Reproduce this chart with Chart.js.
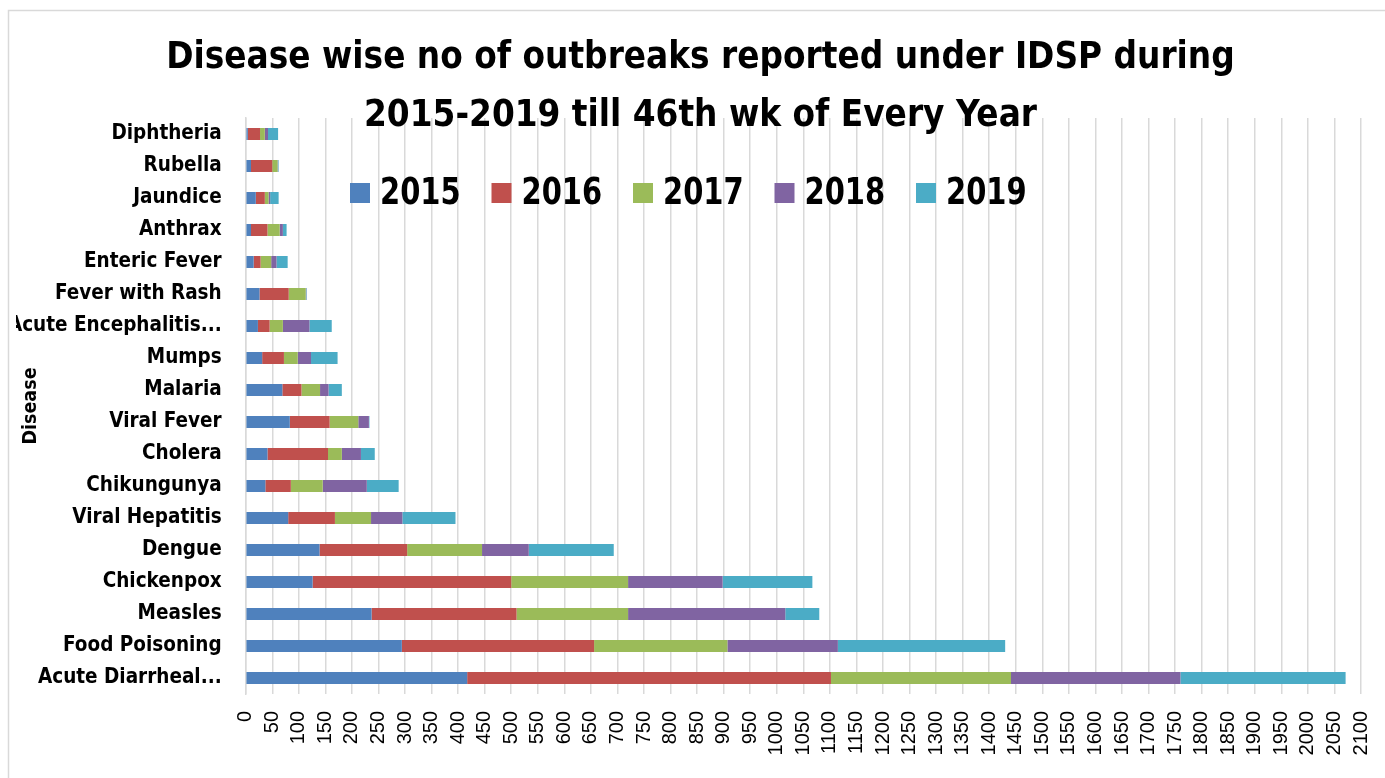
<!DOCTYPE html>
<html>
<head>
<meta charset="utf-8">
<script src="https://cdn.jsdelivr.net/npm/chart.js@4"></script>
<style>
  html, body { margin: 0; padding: 0; background: #fff; }
  canvas { display: block; }
</style>
</head>
<body>
<canvas id="outbreakChart" width="1385" height="778"></canvas>
<script>
// Diseases, top to bottom as in the chart
const diseases = ['Diphtheria', 'Rubella', 'Jaundice', 'Anthrax', 'Enteric Fever', 'Fever with Rash',
  'Acute Encephalitis...', 'Mumps', 'Malaria', 'Viral Fever', 'Cholera', 'Chikungunya',
  'Viral Hepatitis', 'Dengue', 'Chickenpox', 'Measles', 'Food Poisoning', 'Acute Diarrheal...'];

const years = ['2015', '2016', '2017', '2018', '2019'];

// outbreaks per year (same order as diseases)
const y2015 = [4, 10, 19, 10, 15, 26, 23, 31, 69, 83, 41, 37, 80, 139, 126, 237, 294, 417];
const y2016 = [23, 40, 17, 31, 13, 55, 22, 41, 36, 75, 114, 48, 88, 165, 374, 273, 362, 685];
const y2017 = [9, 10, 7, 23, 20, 32, 25, 26, 35, 54, 26, 60, 68, 141, 220, 210, 251, 339];
const y2018 = [6, 1, 3, 6, 10, 1, 50, 25, 16, 20, 36, 83, 59, 88, 178, 296, 208, 319];
const y2019 = [19, 1, 16, 7, 21, 1, 42, 50, 25, 1, 26, 60, 100, 160, 169, 64, 315, 311];

const xMax = 2100;
const xStep = 50;

const colors = ['#4f81bd', '#c0504d', '#9bbb59', '#8064a2', '#4bacc6'];
const narrow = '"Liberation Sans Narrow", "DejaVu Sans Condensed", "Liberation Sans", sans-serif';

// outer frame of the chart
const framePlugin = {
  id: 'frame',
  beforeDraw(chart) {
    const c = chart.ctx;
    c.save();
    c.fillStyle = '#fff';
    c.fillRect(0, 0, chart.width, chart.height);
    c.strokeStyle = '#d9d9d9';
    c.lineWidth = 1.5;
    c.strokeRect(8.5, 10.5, chart.width + 20, chart.height + 20);
    c.restore();
  }
};

// legend sits inside the plot area, over the grid
const legendPlugin = {
  id: 'innerLegend',
  afterDraw(chart) {
    const c = chart.ctx;
    const sets = chart.data.datasets;
    c.save();
    c.font = 'bold 37px ' + narrow;
    c.textBaseline = 'middle';
    const box = 20, gap = 10, pitch = 141.5;
    const x = 350, y = 193;
    sets.forEach((ds, i) => {
      const bx = x + i * pitch;
      c.fillStyle = ds.backgroundColor;
      c.fillRect(bx, y - box / 2, box, box);
      c.save();
      c.translate(bx + box + gap, y + 1);
      c.scale(0.87, 1); // squeeze to the narrow look of the original
      c.fillStyle = '#000';
      c.fillText(ds.label, 0, 0);
      c.restore();
    });
    c.restore();
  }
};

const series = [y2015, y2016, y2017, y2018, y2019];

new Chart(document.getElementById('outbreakChart').getContext('2d'), {
  type: 'bar',
  data: {
    labels: diseases,
    datasets: years.map((yr, i) => ({
      label: yr,
      data: series[i],
      backgroundColor: colors[i],
      borderWidth: 0,
      barPercentage: 0.375,
      categoryPercentage: 1
    }))
  },
  options: {
    indexAxis: 'y',
    responsive: false,
    animation: false,
    layout: { padding: { top: 0, left: 16, right: 0, bottom: 0 } },
    plugins: {
      legend: { display: false },
      tooltip: { enabled: false },
      title: {
        display: true,
        text: ['Disease wise no of outbreaks reported under IDSP during', '2015-2019 till 46th wk of Every Year'],
        color: '#000',
        font: { family: narrow, size: 36.5, weight: 'bold', lineHeight: '58px' },
        padding: { top: 30, bottom: -28 }
      }
    },
    scales: {
      x: {
        stacked: true,
        min: 0,
        max: xMax,
        grid: { color: '#d9d9d9', lineWidth: 1.5, drawTicks: false },
        border: { display: false },
        ticks: {
          stepSize: xStep,
          autoSkip: false,
          minRotation: 90,
          maxRotation: 90,
          padding: 17,
          color: '#000',
          font: { family: '"Liberation Sans", Arial, sans-serif', size: 20 },
          callback: (v) => String(v)
        },
        afterFit(scale) {
          scale.height = 84;
          scale.paddingRight = 24;
        }
      },
      y: {
        stacked: true,
        grid: { display: false, drawTicks: false },
        border: { display: true, color: '#d9d9d9', width: 1.5 },
        ticks: {
          padding: 24,
          color: '#000',
          font: { family: narrow, size: 20.5, weight: 'bold' }
        },
        title: {
          display: true,
          text: 'Disease',
          color: '#000',
          font: { family: narrow, size: 19.5, weight: 'bold' },
          padding: { top: 3, bottom: 0 }
        },
        afterFit(scale) {
          scale.width = 229.7;
        }
      }
    }
  },
  plugins: [framePlugin, legendPlugin]
});
</script>
</body>
</html>
